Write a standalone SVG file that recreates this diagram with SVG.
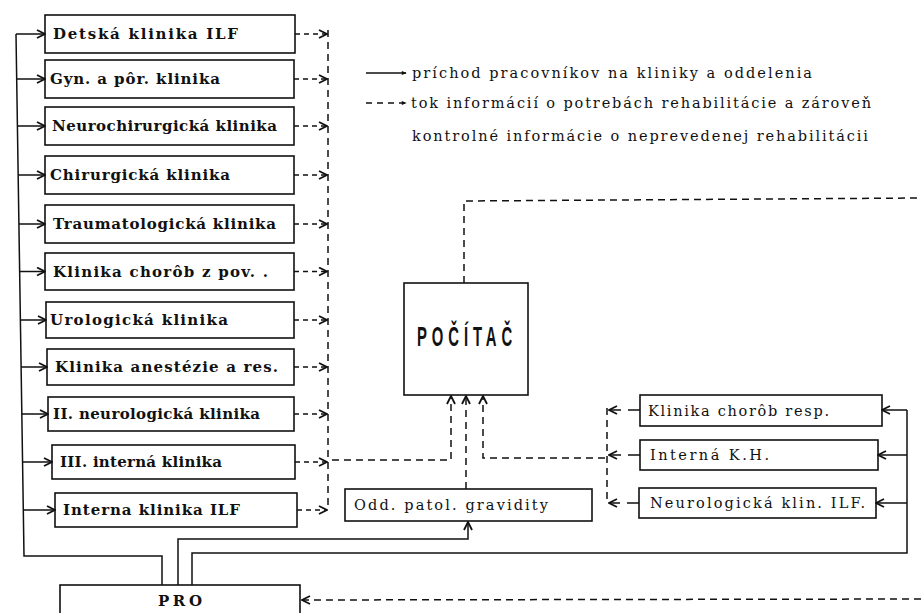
<svg xmlns="http://www.w3.org/2000/svg" width="921" height="613" viewBox="0 0 921 613">
<style>
.bx{fill:#fff;stroke:#111;stroke-width:1.6}
.ln{fill:none;stroke:#111;stroke-width:1.5}
.ds{fill:none;stroke:#111;stroke-width:1.5;stroke-dasharray:7 5}
.sd{stroke-dasharray:5 4}
.rd{stroke-dasharray:12 7}
.tb{font-family:"DejaVu Serif","Liberation Serif",serif;font-weight:bold;font-size:15px;fill:#111}
.tr{font-family:"DejaVu Serif","Liberation Serif",serif;font-size:14.5px;fill:#111}
.tc{font-family:"Liberation Sans","DejaVu Sans",sans-serif;font-weight:bold;font-size:27px;fill:#111}
</style>
<defs>
<marker id="ah" viewBox="0 0 10 10" refX="9" refY="5" markerWidth="10" markerHeight="10" markerUnits="userSpaceOnUse" orient="auto">
<path d="M1,1 L9,5 L1,9" fill="none" stroke="#111" stroke-width="1.8" stroke-dasharray="none"/>
</marker>
<marker id="dot" viewBox="0 0 10 10" refX="8" refY="5" markerWidth="7" markerHeight="7" markerUnits="userSpaceOnUse" orient="auto">
<path d="M2,2 L9,5 L2,8 Z" fill="#111" stroke="none"/>
</marker>
</defs>

<g id="legend">
<line class="ln" x1="366" y1="73" x2="406" y2="73" marker-end="url(#dot)"/>
<line class="ds" x1="366" y1="103" x2="406" y2="103" style="stroke-dasharray:6 5" marker-end="url(#dot)"/>
<text class="tr" x="412" y="78" textLength="400" lengthAdjust="spacing">príchod pracovníkov na kliniky a oddelenia</text>
<text class="tr" x="411" y="108" textLength="460" lengthAdjust="spacing">tok informácií o potrebách rehabilitácie a zároveň</text>
<text class="tr" x="412" y="141" textLength="456" lengthAdjust="spacing">kontrolné informácie o neprevedenej rehabilitácii</text>
</g>

<g id="n1"><rect class="bx" x="45" y="15" width="250" height="38"/><text class="tb" x="53" y="39" textLength="185" lengthAdjust="spacing">Detská klinika ILF</text></g>
<g id="n2"><rect class="bx" x="45" y="60" width="249" height="38"/><text class="tb" x="50" y="84" textLength="170" lengthAdjust="spacing">Gyn. a pôr. klinika</text></g>
<g id="n3"><rect class="bx" x="45" y="107" width="249" height="38"/><text class="tb" x="52" y="131" textLength="225" lengthAdjust="spacing">Neurochirurgická klinika</text></g>
<g id="n4"><rect class="bx" x="45" y="156" width="249" height="38"/><text class="tb" x="50" y="180" textLength="180" lengthAdjust="spacing">Chirurgická klinika</text></g>
<g id="n5"><rect class="bx" x="45" y="205" width="249" height="38"/><text class="tb" x="53" y="229" textLength="223" lengthAdjust="spacing">Traumatologická klinika</text></g>
<g id="n6"><rect class="bx" x="45" y="253" width="249" height="37"/><text class="tb" x="53" y="277" textLength="215" lengthAdjust="spacing">Klinika chorôb z pov. .</text></g>
<g id="n7"><rect class="bx" x="46" y="302" width="248" height="36"/><text class="tb" x="50" y="325" textLength="178" lengthAdjust="spacing">Urologická klinika</text></g>
<g id="n8"><rect class="bx" x="47" y="349" width="247" height="36"/><text class="tb" x="55" y="372" textLength="223" lengthAdjust="spacing">Klinika anestézie a res.</text></g>
<g id="n9"><rect class="bx" x="48" y="397" width="246" height="34"/><text class="tb" x="53" y="419" textLength="207" lengthAdjust="spacing">II. neurologická klinika</text></g>
<g id="n10"><rect class="bx" x="52" y="445" width="243" height="34"/><text class="tb" x="60" y="467" textLength="162" lengthAdjust="spacing">III. interná klinika</text></g>
<g id="n11"><rect class="bx" x="55" y="493" width="242" height="34"/><text class="tb" x="63" y="515" textLength="177" lengthAdjust="spacing">Interna klinika ILF</text></g>

<g id="pocitac"><rect class="bx" x="404" y="283" width="124" height="112"/><text class="tc" transform="translate(417,346) scale(0.55,1)" x="0" y="0" textLength="173" lengthAdjust="spacing">POČÍTAČ</text></g>

<g id="odd"><rect class="bx" x="345" y="489" width="247" height="32"/><text class="tr" x="354" y="510" textLength="194" lengthAdjust="spacing">Odd. patol. gravidity</text></g>

<g id="r1"><rect class="bx" x="640" y="395" width="242" height="31"/><text class="tr" x="648" y="416" textLength="181" lengthAdjust="spacing">Klinika chorôb resp.</text></g>
<g id="r2"><rect class="bx" x="640" y="440" width="238" height="30"/><text class="tr" x="650" y="460" textLength="119" lengthAdjust="spacing">Interná K.H.</text></g>
<g id="r3"><rect class="bx" x="639" y="488" width="237" height="30"/><text class="tr" x="650" y="508" textLength="215" lengthAdjust="spacing">Neurologická klin. ILF.</text></g>

<g id="pro"><rect class="bx" x="60" y="585" width="240" height="40"/><text class="tb" x="158" y="606" textLength="44" lengthAdjust="spacing">PRO</text></g>

<g id="connectors">
<polyline class="ln" points="162,585 162,556 24,556 16,34"/>
<line class="ln" x1="16" y1="34" x2="45" y2="34" marker-end="url(#ah)"/>
<line class="ln" x1="16.7" y1="79" x2="45" y2="79" marker-end="url(#ah)"/>
<line class="ln" x1="17.4" y1="126" x2="45" y2="126" marker-end="url(#ah)"/>
<line class="ln" x1="18.2" y1="175" x2="45" y2="175" marker-end="url(#ah)"/>
<line class="ln" x1="19" y1="224" x2="45" y2="224" marker-end="url(#ah)"/>
<line class="ln" x1="19.7" y1="271.5" x2="45" y2="271.5" marker-end="url(#ah)"/>
<line class="ln" x1="20.4" y1="320" x2="46" y2="320" marker-end="url(#ah)"/>
<line class="ln" x1="21.2" y1="367" x2="47" y2="367" marker-end="url(#ah)"/>
<line class="ln" x1="21.9" y1="414" x2="48" y2="414" marker-end="url(#ah)"/>
<line class="ln" x1="22.6" y1="462" x2="52" y2="462" marker-end="url(#ah)"/>
<line class="ln" x1="23.4" y1="510" x2="55" y2="510" marker-end="url(#ah)"/>
<polyline class="ln" points="178,585 178,539 468,539 468,522" marker-end="url(#ah)"/>
<polyline class="ln" points="192,585 192,553 907,553 907,410"/>
<line class="ln" x1="907" y1="410" x2="882" y2="410" marker-end="url(#ah)"/>
<line class="ln" x1="907" y1="455" x2="878" y2="455" marker-end="url(#ah)"/>
<line class="ln" x1="907" y1="503" x2="876" y2="503" marker-end="url(#ah)"/>
<line class="ds" x1="328" y1="30" x2="328" y2="510"/>
<line class="ds sd" x1="295" y1="34" x2="327" y2="34" marker-end="url(#ah)"/>
<line class="ds sd" x1="294" y1="79" x2="327" y2="79" marker-end="url(#ah)"/>
<line class="ds sd" x1="294" y1="126" x2="327" y2="126" marker-end="url(#ah)"/>
<line class="ds sd" x1="294" y1="175" x2="327" y2="175" marker-end="url(#ah)"/>
<line class="ds sd" x1="294" y1="224" x2="327" y2="224" marker-end="url(#ah)"/>
<line class="ds sd" x1="294" y1="271.5" x2="327" y2="271.5" marker-end="url(#ah)"/>
<line class="ds sd" x1="294" y1="320" x2="327" y2="320" marker-end="url(#ah)"/>
<line class="ds sd" x1="294" y1="367" x2="327" y2="367" marker-end="url(#ah)"/>
<line class="ds sd" x1="294" y1="414" x2="327" y2="414" marker-end="url(#ah)"/>
<line class="ds sd" x1="295" y1="462" x2="327" y2="462" marker-end="url(#ah)"/>
<line class="ds sd" x1="297" y1="510" x2="327" y2="510" marker-end="url(#ah)"/>
<polyline class="ds" points="332,460 451,460 451,396" marker-end="url(#ah)"/>
<line class="ds" x1="466" y1="489" x2="466" y2="396" marker-end="url(#ah)"/>
<line class="ds" x1="607" y1="408" x2="607" y2="503"/>
<line class="ds rd" x1="640" y1="410" x2="609" y2="410" marker-end="url(#ah)"/>
<line class="ds rd" x1="640" y1="455" x2="609" y2="455" marker-end="url(#ah)"/>
<line class="ds rd" x1="639" y1="503" x2="609" y2="503" marker-end="url(#ah)"/>
<polyline class="ds" points="605,458 483,458 483,396" marker-end="url(#ah)"/>
<polyline class="ds" points="464,283 464,201 921,198"/>
<line class="ds" x1="921" y1="599" x2="302" y2="600" marker-end="url(#ah)"/>
</g>
</svg>
